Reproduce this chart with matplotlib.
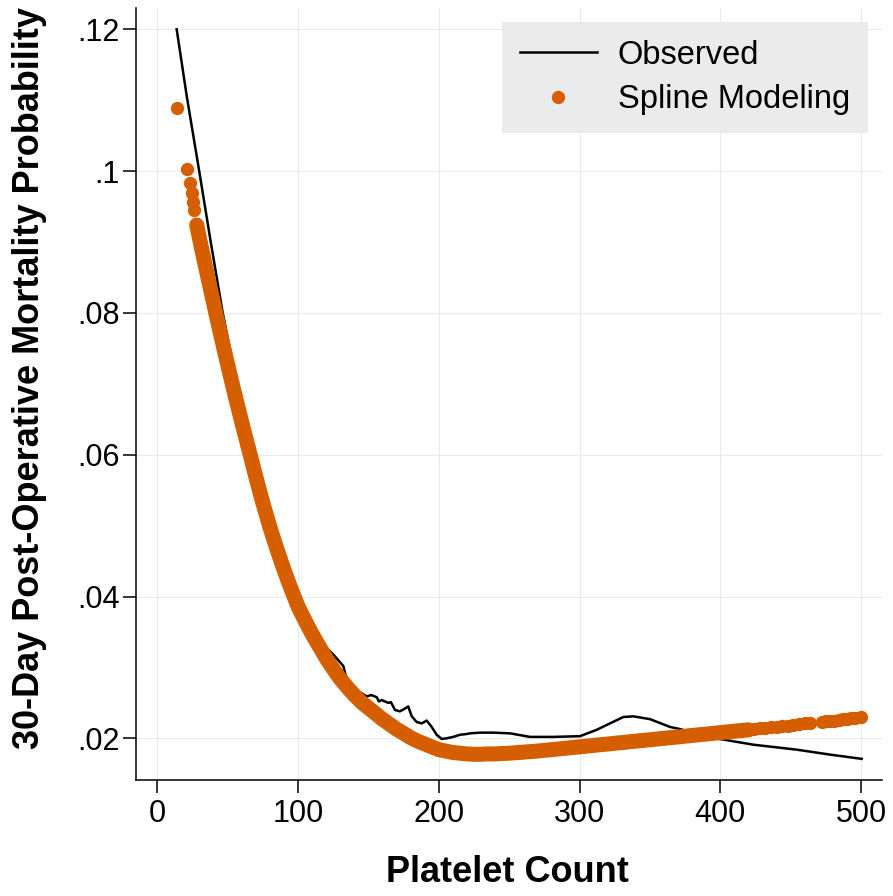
"""Observed vs spline-modelled 30-day post-operative mortality by platelet count."""

import matplotlib

matplotlib.use("Agg")
import matplotlib.pyplot as plt

plt.rcParams["font.family"] = ["Liberation Sans", "DejaVu Sans"]

# Observed (smoothed) mortality curve
OBS_X = [13.8, 21.0, 29.8, 38.0, 46.5, 52.0, 56.4, 60, 63, 66, 70, 80, 90, 100,
         110, 117.9, 125.1, 132.2, 133.4, 135.7, 141.7, 148.8, 152.0, 155.9,
         157.5, 159.4, 164.1, 166.0, 168.9, 172.4, 176.0, 178.3, 180.8, 184.3,
         187.9, 191.4, 195.0, 198.5, 202.1, 205.6, 210.3, 215.1, 219.8, 222.2,
         229.3, 238.7, 250.6, 264.8, 281.4, 300.4, 312.2, 321.6, 331.1, 338.2,
         350.1, 364.3, 371.4, 380, 390, 399.8, 423.5, 454.3, 478.0, 500.5]
OBS_Y = [0.1200, 0.1105, 0.1000, 0.0900, 0.0800, 0.0745, 0.0701, 0.0664,
         0.0636, 0.0610, 0.0578, 0.0505, 0.0444, 0.0393, 0.0355, 0.0332,
         0.0318, 0.0302, 0.0292, 0.0278, 0.0268, 0.0259, 0.0261, 0.0258,
         0.0252, 0.0254, 0.0250, 0.0251, 0.0240, 0.0238, 0.0242, 0.0245,
         0.0231, 0.0223, 0.0221, 0.0225, 0.0216, 0.0205, 0.0199, 0.0200,
         0.0202, 0.0205, 0.0206, 0.0207, 0.0208, 0.0208, 0.0207, 0.0202,
         0.0202, 0.0203, 0.0212, 0.0221, 0.0230, 0.0231, 0.0227, 0.0216,
         0.0213, 0.0208, 0.0203, 0.0199, 0.0191, 0.0184, 0.0177, 0.0171]

# Spline-modelled mortality, one value per platelet count
SPLINE_X = [13.8, 20.9, 23.2, 24.4, 25.4, 26.3, 28, 30, 33, 36, 39, 42, 45, 48,
            51, 54, 57, 60, 63, 66, 70, 75, 80, 85, 90, 95, 100, 105, 110, 115,
            120, 125, 130, 135, 140, 145, 150, 155, 160, 165, 170, 175, 180,
            185, 190, 195, 200, 205, 210, 215, 220, 225, 230, 235, 240, 250,
            260, 270, 280, 290, 300, 310, 320, 330, 340, 350, 360, 370, 380,
            390, 400, 405, 410, 415, 420, 424, 428, 432, 436, 440, 444, 448,
            452, 456, 460, 464, 472, 475, 478, 481, 484, 487, 490, 493, 496, 500]
SPLINE_Y = [0.1089, 0.1003, 0.0983, 0.0969, 0.0957, 0.0945, 0.0924, 0.0905,
            0.0877, 0.0850, 0.0823, 0.0796, 0.0770, 0.0744, 0.0719, 0.0694,
            0.0670, 0.0646, 0.0623, 0.0600, 0.0569, 0.0532, 0.0498, 0.0467,
            0.0438, 0.0411, 0.0386, 0.0366, 0.0347, 0.0330, 0.0313, 0.0298,
            0.0284, 0.0272, 0.0261, 0.0251, 0.0243, 0.0235, 0.0227, 0.0220,
            0.0213, 0.0207, 0.0201, 0.0196, 0.0192, 0.0188, 0.0184, 0.0182,
            0.0180, 0.0179, 0.0178, 0.01775, 0.01775, 0.0178, 0.0178, 0.0179,
            0.01805, 0.0182, 0.0184, 0.0186, 0.0188, 0.0190, 0.0192, 0.0194,
            0.0196, 0.0198, 0.0200, 0.0202, 0.0204, 0.0206, 0.0208, 0.0209,
            0.0210, 0.0211, 0.0212, 0.0213, 0.0214, 0.0215, 0.0216, 0.0216,
            0.0217, 0.0218, 0.0219, 0.0220, 0.0221, 0.0222, 0.0223, 0.0224,
            0.0225, 0.0225, 0.0226, 0.0227, 0.0227, 0.0228, 0.0229, 0.0230]

X_TICKS = [0, 100, 200, 300, 400, 500]
Y_TICKS = [0.02, 0.04, 0.06, 0.08, 0.10, 0.12]
Y_TICK_LABELS = [".02", ".04", ".06", ".08", ".1", ".12"]

ORANGE = "#D55E00"
GRID = "#EAEAEA"

W, H = 893, 896
fig = plt.figure(figsize=(W / 100, H / 100), dpi=100)
ax = fig.add_axes([136 / W, (H - 780) / H, 746 / W, 772 / H])

ax.plot(OBS_X, OBS_Y, color="black", lw=1.8, label="Observed", zorder=2)

# the modelled points are so dense that they merge into a band
band = [(x, y) for x, y in zip(SPLINE_X, SPLINE_Y) if 28 <= x <= 420]
ax.plot([p[0] for p in band], [p[1] for p in band], color=ORANGE, lw=10.8,
        solid_capstyle="round", zorder=3)
ax.plot(SPLINE_X, SPLINE_Y, "o", color=ORANGE, ms=9.6, mew=0,
        label="Spline Modeling", zorder=3)

ax.set_xlim(-15.1, 514.9)
ax.set_ylim(0.01412, 0.1230)
ax.set_xticks(X_TICKS)
ax.set_yticks(Y_TICKS)
ax.set_yticklabels(Y_TICK_LABELS)
ax.tick_params(axis="both", labelsize=22, length=9.5, width=1.1, color="black")
ax.tick_params(axis="x", pad=4.5)
ax.tick_params(axis="y", pad=2.5)

ax.grid(True, color=GRID, lw=0.8)
ax.set_axisbelow(True)
for side in ("top", "right"):
    ax.spines[side].set_visible(False)
for side in ("left", "bottom"):
    ax.spines[side].set_linewidth(1.1)

ax.set_xlabel("Platelet Count", fontsize=26, fontweight="bold")
ax.set_ylabel("30-Day Post-Operative Mortality Probability", fontsize=26,
              fontweight="bold")
ax.xaxis.set_label_coords(0.498, -0.097)
ax.yaxis.set_label_coords(-0.119, 0.521)

leg = ax.legend(loc="upper right", bbox_to_anchor=(0.9812, 0.9823),
                borderaxespad=0, fontsize=23.5, frameon=True, fancybox=False,
                facecolor="#EBEBEB", edgecolor="none", framealpha=1,
                handlelength=2.35, handletextpad=0.65, labelspacing=0.42,
                borderpad=0.55, numpoints=1, markerscale=1.0)

fig.savefig("out.png", dpi=100)
